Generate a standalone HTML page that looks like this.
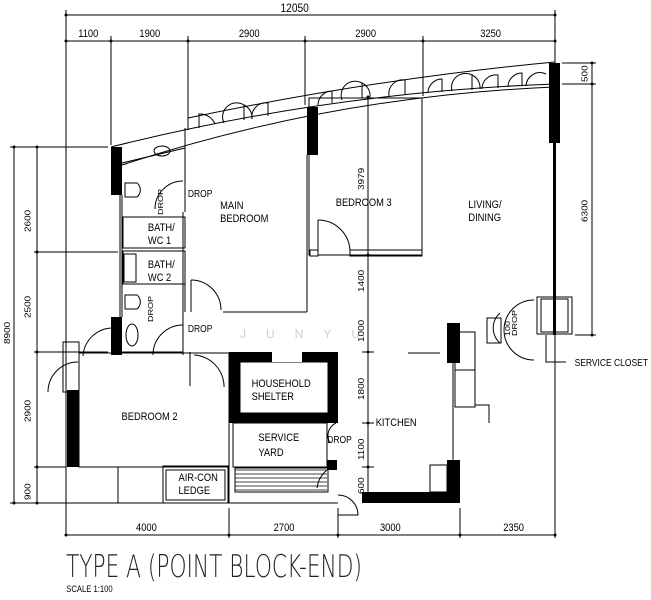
<!DOCTYPE html>
<html><head><meta charset="utf-8"><style>
html,body{margin:0;padding:0;background:#fff;}
svg{display:block;}
text{font-family:"Liberation Sans",sans-serif;fill:#000;}
</style></head><body>
<svg width="651" height="600" viewBox="0 0 651 600" xmlns="http://www.w3.org/2000/svg">
<g stroke="#000" stroke-width="1" fill="none">
<line x1="66" y1="15" x2="555" y2="15"/>
<line x1="66" y1="41" x2="555" y2="41"/>
<line x1="66" y1="10" x2="66" y2="535"/>
<line x1="555" y1="10" x2="555" y2="63"/>
<line x1="111" y1="36" x2="111" y2="145"/>
<line x1="188" y1="36" x2="188" y2="125"/>
<line x1="305" y1="36" x2="305" y2="105"/>
<line x1="423" y1="36" x2="423" y2="96"/>
<line x1="14" y1="147" x2="14" y2="503"/>
<line x1="37" y1="147" x2="37" y2="503"/>
<line x1="10" y1="147" x2="108" y2="147"/>
<line x1="34" y1="252" x2="118" y2="252"/>
<line x1="34" y1="352" x2="108" y2="352"/>
<line x1="34" y1="467" x2="66" y2="467"/>
<line x1="10" y1="503" x2="112" y2="503"/>
<line x1="66" y1="535" x2="555" y2="535"/>
<line x1="229" y1="508" x2="229" y2="538"/>
<line x1="338" y1="508" x2="338" y2="538"/>
<line x1="460" y1="508" x2="460" y2="538"/>
<line x1="555" y1="335" x2="555" y2="538"/>
<line x1="592" y1="63" x2="592" y2="335"/>
<line x1="562" y1="63" x2="596" y2="63"/>
<line x1="562" y1="84" x2="596" y2="84"/>
<line x1="575" y1="335" x2="596" y2="335"/>
<line x1="368" y1="97" x2="368" y2="500"/>
<line x1="362" y1="255" x2="374" y2="255"/>
<line x1="362" y1="352" x2="374" y2="352"/>
<line x1="362" y1="423" x2="374" y2="423"/>
<line x1="362" y1="467" x2="374" y2="467"/>
<path d="M111 147 Q330 92 555 84"/>
<path d="M122 165 Q332 96 555 87"/>
<path d="M188 118 Q380 78 555 62"/>
<path d="M188 118 L188 130"/>
</g>
<g fill="#000">
<circle cx="66" cy="15" r="1.5"/><circle cx="555" cy="15" r="1.5"/>
<circle cx="66" cy="41" r="1.5"/><circle cx="111" cy="41" r="1.5"/><circle cx="188" cy="41" r="1.5"/><circle cx="305" cy="41" r="1.5"/><circle cx="423" cy="41" r="1.5"/><circle cx="555" cy="41" r="1.5"/>
<circle cx="66" cy="535" r="1.5"/><circle cx="229" cy="535" r="1.5"/><circle cx="338" cy="535" r="1.5"/><circle cx="460" cy="535" r="1.5"/><circle cx="555" cy="535" r="1.5"/>
<circle cx="14" cy="147" r="1.5"/><circle cx="37" cy="147" r="1.5"/><circle cx="37" cy="252" r="1.5"/><circle cx="37" cy="352" r="1.5"/><circle cx="37" cy="467" r="1.5"/><circle cx="14" cy="503" r="1.5"/><circle cx="37" cy="503" r="1.5"/>
<circle cx="592" cy="63" r="1.5"/><circle cx="592" cy="84" r="1.5"/><circle cx="592" cy="335" r="1.5"/>
<circle cx="368" cy="97" r="1.5"/><circle cx="368" cy="255" r="1.5"/><circle cx="368" cy="352" r="1.5"/><circle cx="368" cy="423" r="1.5"/><circle cx="368" cy="467" r="1.5"/>
<rect x="111" y="147" width="11" height="48"/>
<rect x="111" y="317" width="11" height="38"/>
<rect x="307" y="107" width="11" height="48"/>
<rect x="549" y="63" width="11" height="80"/>
<rect x="553" y="143" width="3" height="192"/>
<rect x="67" y="390" width="12" height="77"/>
<rect x="229" y="352" width="109" height="71"/>
<rect x="362" y="492" width="98" height="11"/>
<rect x="447" y="323" width="13" height="40"/>
<rect x="447" y="460" width="13" height="43"/>
<rect x="327" y="460" width="10" height="10"/>
</g>
<rect x="240" y="362" width="88" height="51" fill="#fff" stroke="#000"/>
<rect x="272" y="352" width="30" height="10" fill="#fff"/>
<g stroke="#000" stroke-width="1" fill="none">
<!-- windows: casement arcs -->
<path d="M199 128 v-14 a16 16 0 0 1 16 10"/>
<path d="M224 123 a14 14 0 0 1 20 -18 a14 14 0 0 1 8 14"/><line x1="244" y1="105" x2="244" y2="120"/>
<path d="M252 119 a14 14 0 0 1 16 -16 v13"/>
<path d="M318 105 a14 14 0 0 1 14 -14 v12"/>
<path d="M342 100 a14 14 0 0 1 20 -17 a14 14 0 0 1 8 14"/><line x1="362" y1="83" x2="362" y2="98"/>
<path d="M389 96 a14 14 0 0 1 16 -16 v14"/>
<path d="M428 93 a14 14 0 0 1 14 -14 v13"/>
<path d="M452 91 a14 14 0 0 1 20 -16 a14 14 0 0 1 8 14"/><line x1="472" y1="75" x2="472" y2="90"/>
<path d="M482 89 a14 14 0 0 1 16 -14 v13"/>
<path d="M508 87 a14 14 0 0 1 14 -14 v13"/>
<path d="M526 86 a14 14 0 0 1 20 -12"/>
<line x1="122" y1="195" x2="122" y2="317"/><line x1="120" y1="195" x2="120" y2="317"/>
<line x1="185" y1="128" x2="185" y2="212"/><line x1="183" y1="212" x2="183" y2="355"/>
<line x1="122" y1="163" x2="185" y2="148"/>
<ellipse cx="162" cy="151" rx="8" ry="5"/>
<rect x="123" y="217" width="62" height="31"/>
<rect x="123" y="251" width="62" height="33"/>
<rect x="124" y="254" width="12" height="28"/>
<path d="M125 183 h12 a9 9 0 0 1 0 14 h-12z"/>
<path d="M125 295 h12 a9 9 0 0 1 0 14 h-12z"/>
<ellipse cx="132" cy="335" rx="6" ry="11"/>
<line x1="122" y1="352" x2="183" y2="352"/>
<path d="M183 181 a28 28 0 0 0 -28 28"/>
<path d="M183 325 a30 30 0 0 0 -30 30"/>
<line x1="185" y1="270" x2="185" y2="312"/>
<path d="M191 280 a30 30 0 0 1 30 30"/><line x1="191" y1="280" x2="191" y2="312"/>
<line x1="223" y1="312" x2="307" y2="312"/>
<line x1="307" y1="155" x2="307" y2="312"/>
<rect x="309" y="98" width="113" height="157"/>
<path d="M318 220 a32 32 0 0 1 32 32"/><line x1="318" y1="220" x2="318" y2="255"/>
<rect x="310" y="250" width="8" height="6" fill="#fff"/><rect x="350" y="250" width="72" height="6" fill="none"/>
<rect x="79" y="353" width="150" height="114"/>
<path d="M194 355 a32 32 0 0 1 30 30 v2"/><line x1="190" y1="352" x2="190" y2="386"/>
<path d="M78 362 a30 30 0 0 0 -30 30"/><rect x="63" y="342" width="16" height="50"/>
<path d="M113 328 a30 30 0 0 0 -30 28"/>
<rect x="233" y="423" width="94" height="44"/>
<g stroke-width="0.8"><line x1="235" y1="470" x2="327" y2="470"/><line x1="235" y1="474" x2="327" y2="474"/><line x1="235" y1="478" x2="327" y2="478"/><line x1="235" y1="482" x2="327" y2="482"/><line x1="235" y1="486" x2="327" y2="486"/><line x1="235" y1="490" x2="327" y2="490"/></g>
<rect x="235" y="468" width="93" height="24"/>
<line x1="118" y1="467" x2="118" y2="503"/><line x1="66" y1="503" x2="338" y2="503"/>
<rect x="163" y="466" width="65" height="37"/><rect x="166" y="470" width="59" height="30"/>
<line x1="229" y1="467" x2="229" y2="503"/>
<path d="M327 470 a28 28 0 0 0 -10 18"/>
<path d="M338 495 a20 20 0 0 1 20 20 h-20"/>
<path d="M336 423 a14 14 0 0 0 -6 20"/>
<line x1="408" y1="353" x2="440" y2="353"/>
<line x1="453" y1="363" x2="453" y2="460"/>
<rect x="455" y="332" width="20" height="75"/>
<line x1="455" y1="370" x2="475" y2="370"/>
<path d="M475 405 h14 v18"/>
<rect x="430" y="465" width="17" height="27"/>
<rect x="537" y="297" width="35" height="37"/>
<rect x="541" y="299" width="27" height="33"/>
<path d="M534 300 a30 30 0 0 0 0 60"/>
<path d="M500 313 a20 20 0 0 0 0 30"/>
<rect x="487" y="318" width="14" height="25"/>
<path d="M546 335 v27 h20"/>
</g>
<text x="240" y="338" font-size="12" style="fill:#cfcfcf" letter-spacing="20">JUNYU</text>
<g font-size="11" transform="scale(0.85 1)">
<text x="330" y="12" font-size="12">12050</text>
<text x="92" y="37">1100</text><text x="164" y="37">1900</text><text x="281" y="37">2900</text><text x="418" y="37">2900</text><text x="565" y="37">3250</text>
<text x="160" y="531">4000</text><text x="322" y="531">2700</text><text x="447" y="531">3000</text><text x="592" y="531">2350</text>
<text x="259" y="209">MAIN</text><text x="259" y="222">BEDROOM</text>
<text x="395" y="206">BEDROOM 3</text>
<text x="551" y="208">LIVING/</text><text x="551" y="221">DINING</text>
<text x="174" y="231">BATH/</text><text x="174" y="244">WC 1</text>
<text x="174" y="268">BATH/</text><text x="174" y="281">WC 2</text>
<text x="143" y="420">BEDROOM 2</text>
<text x="296" y="387">HOUSEHOLD</text><text x="296" y="400">SHELTER</text>
<text x="304" y="441">SERVICE</text><text x="304" y="456">YARD</text>
<text x="442" y="426">KITCHEN</text>
<text x="210" y="481">AIR-CON</text><text x="210" y="494">LEDGE</text>
<text x="221" y="197" font-size="10">DROP</text>
<text x="221" y="332" font-size="10">DROP</text>
<text x="385" y="443" font-size="10">DROP</text>
<text x="676" y="366" font-size="10">SERVICE CLOSET</text>
<text x="78" y="592" font-size="9">SCALE    1:100</text>
</g>
<g font-size="10" transform="scale(0.85 1)">
<text transform="translate(36 232) rotate(-90)">2600</text>
<text transform="translate(36 318) rotate(-90)">2500</text>
<text transform="translate(36 422) rotate(-90)">2900</text>
<text transform="translate(36 500) rotate(-90)">900</text>
<text transform="translate(12 344) rotate(-90)">8900</text>
<text transform="translate(691 82) rotate(-90)">500</text>
<text transform="translate(691 222) rotate(-90)">6300</text>
<text transform="translate(428 190) rotate(-90)">3979</text>
<text transform="translate(428 292) rotate(-90)">1400</text>
<text transform="translate(428 342) rotate(-90)">1000</text>
<text transform="translate(428 400) rotate(-90)">1800</text>
<text transform="translate(428 460) rotate(-90)">1100</text>
<text transform="translate(428 494) rotate(-90)">600</text>
<text transform="translate(192 215) rotate(-90)" font-size="9">DROP</text>
<text transform="translate(180 322) rotate(-90)" font-size="9">DROP</text>
<text transform="translate(608 336) rotate(-90)" font-size="9">DROP</text>
<text transform="translate(600 336) rotate(-90)" font-size="9">100</text>
</g>
<text x="66" y="577" font-size="31" transform="translate(66 0) scale(0.7 1) translate(-66 0)" style="font-family:'DejaVu Sans ExtraLight','DejaVu Sans Light','Liberation Sans',sans-serif;font-weight:200;fill:#222">TYPE A (POINT BLOCK-END)</text>
</svg>
</body></html>
